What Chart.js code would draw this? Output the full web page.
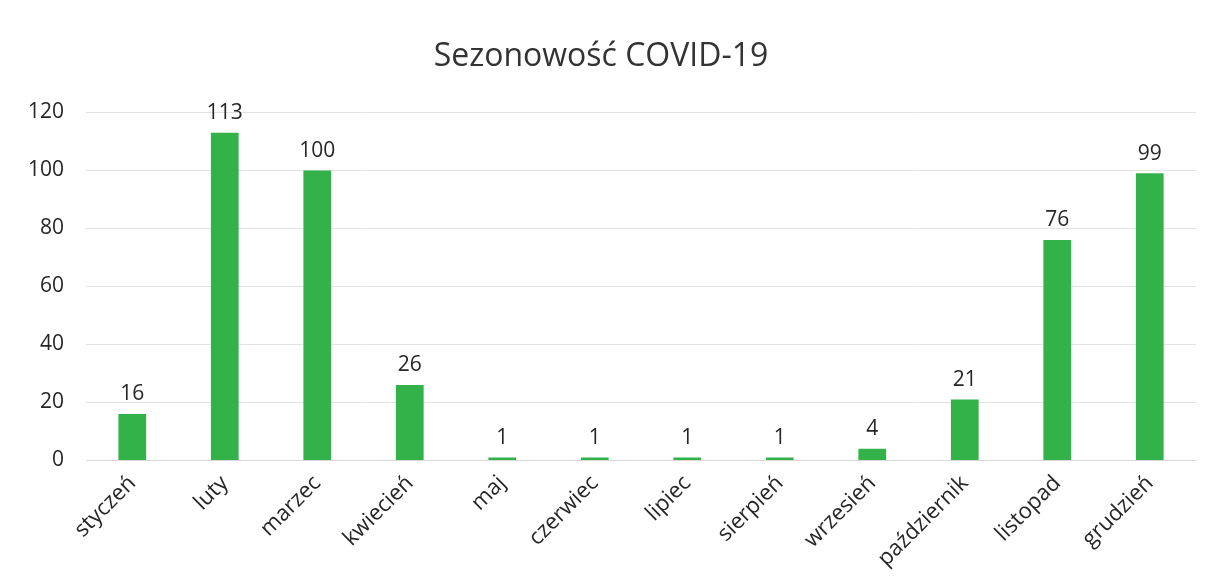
<!DOCTYPE html>
<html>
<head>
<meta charset="utf-8">
<script src="https://cdn.jsdelivr.net/npm/chart.js@4"></script>
<style>
  body { margin: 0; background: #fff; }
  #wrap { width: 1213px; height: 583px; }
</style>
</head>
<body>
<div id="wrap"><canvas id="myChart"></canvas></div>
<script>
// Data
const months = ['styczeń', 'luty', 'marzec', 'kwiecień', 'maj', 'czerwiec', 'lipiec', 'sierpień', 'wrzesień', 'październik', 'listopad', 'grudzień'];
const cases = [16, 113, 100, 26, 1, 1, 1, 1, 4, 21, 76, 99];
const yTicks = [0, 20, 40, 60, 80, 100, 120];

// value labels above bars
const barLabels = {
  id: 'barLabels',
  afterDatasetsDraw(chart) {
    const ctx = chart.ctx;
    const meta = chart.getDatasetMeta(0);
    ctx.save();
    ctx.font = '21px "Open Sans", sans-serif';
    ctx.fillStyle = '#262626';
    ctx.textAlign = 'center';
    ctx.textBaseline = 'bottom';
    meta.data.forEach((bar, i) => {
      ctx.fillText(cases[i], bar.x, bar.y - 9);
    });
    ctx.restore();
  }
};

const config = {
  type: 'bar',
  data: {
    labels: months,
    datasets: [{
      data: cases,
      backgroundColor: '#33b24a',
      categoryPercentage: 1,
      barPercentage: 0.3,
    }],
  },
  options: {
    responsive: true,
    maintainAspectRatio: false,
    animation: false,
    layout: { padding: { left: 6, right: 17, top: 38, bottom: 9 } },
    plugins: {
      legend: { display: false },
      tooltip: { enabled: false },
      title: {
        display: true,
        text: 'Sezonowość COVID-19',
        color: '#333',
        font: { family: '"Open Sans", sans-serif', size: 32, weight: 'normal' },
        padding: { top: 0, bottom: 36 },
      },
    },
    scales: {
      x: {
        grid: { display: false },
        border: { color: '#d9d9d9' },
        ticks: {
          color: '#262626',
          font: { family: '"Open Sans", sans-serif', size: 22 },
          minRotation: 45,
          maxRotation: 45,
          padding: 2,
        },
      },
      y: {
        min: 0,
        max: 120,
        afterBuildTicks(axis) {
          axis.ticks = yTicks.map(v => ({ value: v }));
        },
        grid: { color: '#e3e3e3', drawTicks: false },
        border: { display: false },
        ticks: {
          color: '#262626',
          font: { family: '"Open Sans", sans-serif', size: 21 },
          padding: 22,
        },
      },
    },
  },
  plugins: [barLabels],
};

const myChart = new Chart(document.getElementById('myChart'), config);
</script>
</body>
</html>
